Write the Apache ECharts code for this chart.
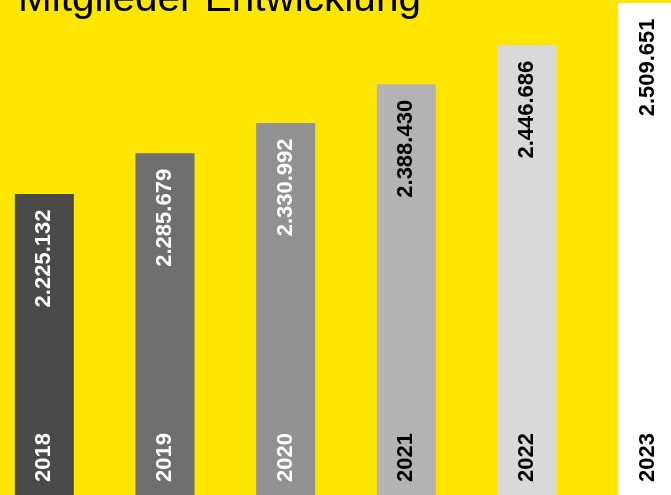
<!DOCTYPE html>
<html>
<head>
<meta charset="utf-8">
<script src="https://cdn.jsdelivr.net/npm/echarts@6/dist/echarts.min.js"></script>
<style>
html,body{margin:0;padding:0;background:#FFE600;}
#chart{width:671px;height:495px;}
</style>
</head>
<body>
<div id="chart"></div>
<script>
var years = ['2018', '2019', '2020', '2021', '2022', '2023'];
var members = [2225132, 2285679, 2330992, 2388430, 2446686, 2509651];
var memberLabels = ['2.225.132', '2.285.679', '2.330.992', '2.388.430', '2.446.686', '2.509.651'];
var barColors = ['#4A4A4A', '#6F6F6F', '#929292', '#B3B3B3', '#D9D9D9', '#FFFFFF'];
var textColors = ['#FFFFFF', '#FFFFFF', '#FFFFFF', '#000000', '#000000', '#000000'];
var titleText = 'Mitglieder Entwicklung';

var chart = echarts.init(document.getElementById('chart'), null, {renderer: 'canvas'});
var font = '"Liberation Sans", Arial, sans-serif';
chart.setOption({
  backgroundColor: '#FFE600',
  animation: false,
  graphic: [{
    type: 'text',
    left: 18,
    top: -21,
    style: {text: titleText, font: '40.5px ' + font, fill: '#000000'}
  }],
  grid: {left: -16, width: 724, top: 0, bottom: 0, containLabel: false, outerBoundsMode: 'none'},
  xAxis: {
    type: 'category',
    data: years,
    axisLine: {show: false},
    axisTick: {show: false},
    axisLabel: {
      inside: true,
      rotate: 90,
      margin: 13,
      fontSize: 22,
      fontWeight: 'bold',
      fontFamily: font,
      padding: [0, 0, 0, 0],
      color: function (v, i) { return textColors[years.indexOf(v)]; }
    },
    z: 10
  },
  yAxis: {
    type: 'value',
    min: 1777100,
    max: 2514000,
    show: false,
    splitLine: {show: false}
  },
  series: [{
    type: 'bar',
    data: members.map(function (v, i) {
      return {value: v, itemStyle: {color: barColors[i]},
        label: {color: textColors[i]}};
    }),
    barWidth: 59,
    label: {
      show: true,
      position: 'insideTop',
      distance: 17,
      rotate: 90,
      align: 'right',
      verticalAlign: 'middle',
      offset: [1.5, 0],
      fontSize: 22,
      fontWeight: 'bold',
      fontFamily: font,
      formatter: function (p) { return memberLabels[p.dataIndex]; }
    }
  }]
});
</script>
</body>
</html>
